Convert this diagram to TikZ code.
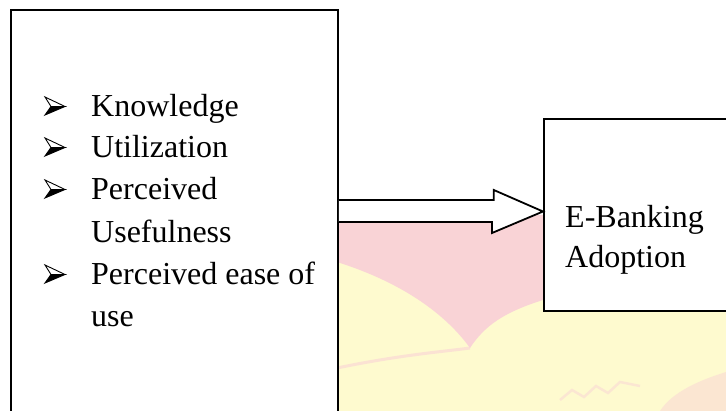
\documentclass[tikz,border=0pt]{standalone}
\usepackage{fontspec}
\setmainfont{Liberation Serif}
\usetikzlibrary{calc}
\definecolor{wmpink}{HTML}{F9D3D6}
\definecolor{wmyellow}{HTML}{FEFACF}
\tikzset{
  boxstyle/.style={draw=black, line width=1.8pt, fill=white, rectangle, inner sep=0pt, anchor=north west},
  itemtext/.style={anchor=base west, inner sep=0pt, font=\fontsize{32}{40}\selectfont},
  blockarrow/.style={draw=black, fill=white, line width=1.8pt, line join=miter},
  arrowbullet/.pic={
    \filldraw[fill=white, draw=black, line width=0.9pt, line join=miter] (0,-20) -- (20,-10.5) -- (6,-10.5) -- cycle;
    \filldraw[fill=black, draw=black, line width=0.9pt, line join=miter] (6,-10.5) -- (20,-10.5) -- (0,-2) -- cycle;
  }
}
\begin{document}
\begin{tikzpicture}[x=1pt,y=-1pt]
\useasboundingbox (0,0) rectangle (726,411);
\clip (0,0) rectangle (726,411);
% faint watermark
\fill[wmyellow] (337,215) rectangle (726,411);
\fill[wmpink] (337,215) -- (560,215) -- (560,300) -- (543,300)
  .. controls (505,312) and (485,325) .. (470,348)
  .. controls (450,320) and (410,285) .. (337,262) -- cycle;
\draw[wmpink, line width=3pt, opacity=0.6] (337,368) .. controls (400,355) and (440,352) .. (470,348);
\fill[wmpink, opacity=0.5] (660,411) .. controls (672,392) and (700,380) .. (726,372) -- (726,411) -- cycle;
\draw[wmpink, line width=2.5pt, opacity=0.5] (560,400) -- (572,390) -- (584,397) -- (596,386) -- (608,393) -- (620,382) -- (640,386);
% boxes
\node[boxstyle, minimum width=327pt, minimum height=430pt] (left) at (10,9) {};
\node[boxstyle, minimum width=200pt, minimum height=192pt] (right) at (543,118) {};
% items
\pic (b1) at (45,117) {arrowbullet};
\node[itemtext] (t1) at (91,117) {Knowledge};
\pic (b2) at (45,158) {arrowbullet};
\node[itemtext] (t2) at (91,158) {Utilization};
\pic (b3) at (45,200) {arrowbullet};
\node[itemtext] (t3) at (91,200) {Perceived};
\node[itemtext] (t4) at (91,243) {Usefulness};
\pic (b5) at (45,285) {arrowbullet};
\node[itemtext] (t5) at (91,285) {Perceived ease of};
\node[itemtext] (t6) at (91,327) {use};
\node[itemtext] (r1) at (565,228) {E-Banking};
\node[itemtext] (r2) at (565,268) {Adoption};
% block arrow
\coordinate (tip) at (543,211.5);
\draw[blockarrow] ($(left.east |- tip)+(0,-11.5)$) -- ++(155,0) -- ++(0,-10) -- (tip)
  -- ++(-51,21.5) -- ++(0,-11) -- ($(left.east |- tip)+(0,10.5)$);
\end{tikzpicture}
\end{document}
